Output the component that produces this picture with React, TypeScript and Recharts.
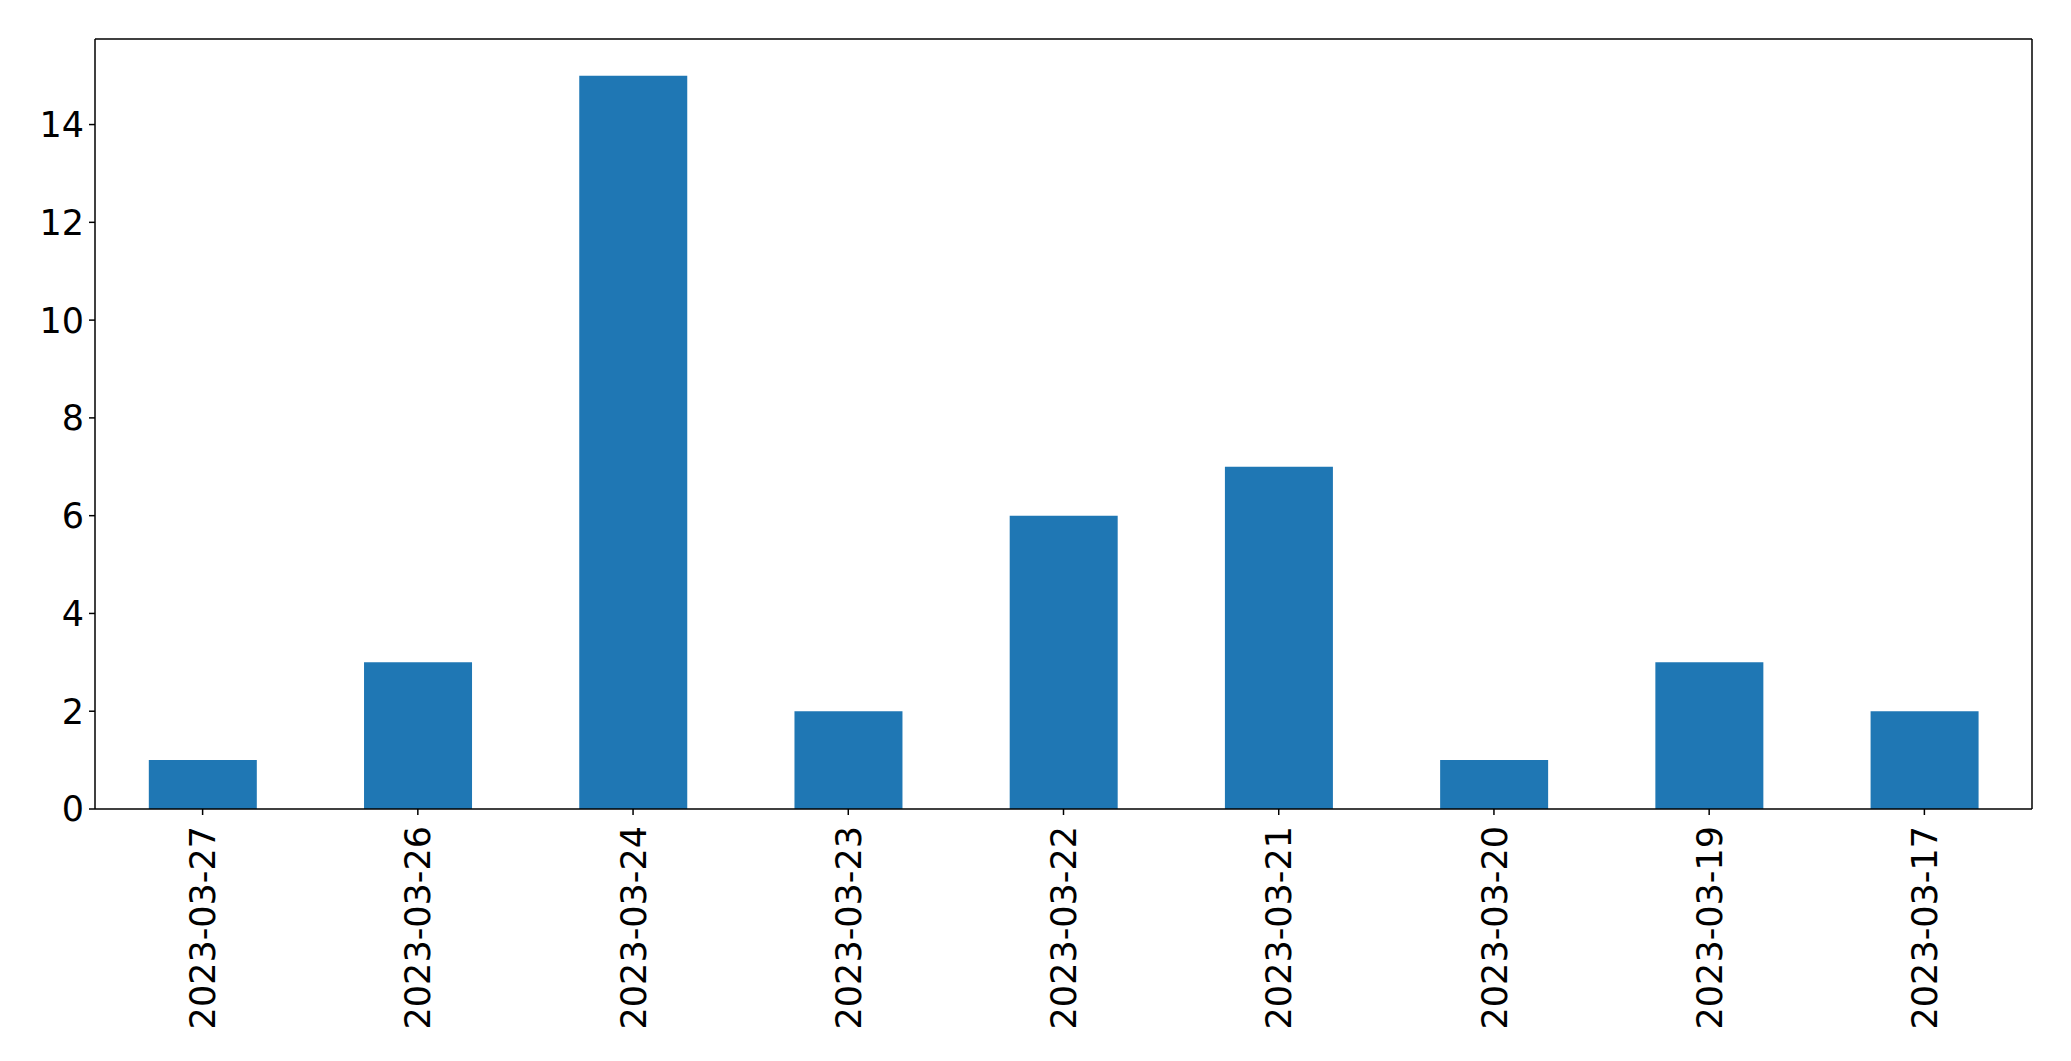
import React from 'react';
import { BarChart, Bar, XAxis, YAxis } from 'recharts';

const dates = [
  '2023-03-27',
  '2023-03-26',
  '2023-03-24',
  '2023-03-23',
  '2023-03-22',
  '2023-03-21',
  '2023-03-20',
  '2023-03-19',
  '2023-03-17',
];
const counts = [1, 3, 15, 2, 6, 7, 1, 3, 2];
const yTicks = [0, 2, 4, 6, 8, 10, 12, 14];

const data = dates.map((d, i) => ({ date: d, count: counts[i] }));

const FONT = '"DejaVu Sans", sans-serif';
const FONT_SIZE = 35;

const XTick = (props: any) => {
  const { x, y, payload } = props;
  return (
    <text
      x={x}
      y={y}
      transform={`rotate(-90, ${x}, ${y})`}
      textAnchor="end"
      dy="0.36em"
      fill="#000"
      fontFamily={FONT}
      fontSize={FONT_SIZE}
    >
      {payload.value}
    </text>
  );
};

export default function App() {
  return (
    <div style={{ width: 2071, height: 1061, background: '#fff' }}>
      <style>{`body { margin: 0; }`}</style>
      <BarChart
        width={2071}
        height={1061}
        data={data}
        margin={{ top: 38, right: 38, bottom: 0, left: 0 }}
        barCategoryGap="25%"
      >
        <XAxis
          dataKey="date"
          height={252}
          interval={0}
          tick={<XTick />}
          tickSize={6}
          tickMargin={11}
          axisLine={{ stroke: '#000', strokeWidth: 1.5 }}
          tickLine={{ stroke: '#000', strokeWidth: 1.5 }}
        />
        <XAxis
          xAxisId="top"
          dataKey="date"
          orientation="top"
          height={1}
          tick={false}
          tickLine={false}
          axisLine={{ stroke: '#000', strokeWidth: 1.5 }}
        />
        <YAxis
          width={95}
          domain={[0, 15.75]}
          ticks={yTicks}
          allowDataOverflow
          tickSize={6}
          tickMargin={5}
          tick={{ fill: '#000', fontFamily: FONT, fontSize: FONT_SIZE }}
          axisLine={{ stroke: '#000', strokeWidth: 1.5 }}
          tickLine={{ stroke: '#000', strokeWidth: 1.5 }}
        />
        <YAxis
          yAxisId="right"
          orientation="right"
          width={1}
          domain={[0, 15.75]}
          tick={false}
          tickLine={false}
          axisLine={{ stroke: '#000', strokeWidth: 1.5 }}
        />
        <Bar dataKey="count" fill="#1f77b4" isAnimationActive={false} />
      </BarChart>
    </div>
  );
}
